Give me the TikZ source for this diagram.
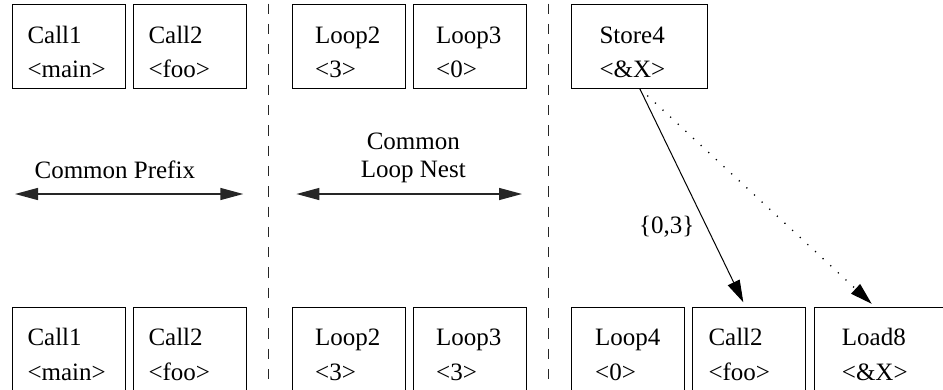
\documentclass[tikz,border=0pt]{standalone}
\usepackage{fontspec}
\setmainfont{Liberation Serif}
\usetikzlibrary{arrows.meta}
\tikzset{
  cellbox/.style={draw, line width=1pt, inner sep=0pt, minimum height=83.3pt},
  celltext/.style={anchor=base west, inner sep=0pt, font=\fontsize{25}{30}\selectfont},
  sepline/.style={draw=black!85, line width=1.2pt, dash pattern=on 10.3pt off 10pt, dash phase=16.8pt},
  spanarrow/.style={{Triangle[length=23pt,width=12pt]}-{Triangle[length=23pt,width=12pt]}, line width=1.4pt, draw=black!85},
  deparrow/.style={-{Triangle[length=22pt,width=13pt]}, line width=1pt},
  maydep/.style={deparrow, line width=1.3pt, dash pattern=on 1.2pt off 9.2pt},
  lbl/.style={font=\fontsize{25}{30}\selectfont, inner sep=0pt, anchor=base},
}
\newcommand\cellbx[7]{%
  \node[cellbox, minimum width={(#3-#2)*1pt}] (#1) at ({(#2+#3)/2},{#4+41.65}) {};
  \node[celltext] (#1a) at ({#2+#5},{#4+38.3}) {#6};
  \node[celltext] (#1b) at ({#2+#5},{#4+72.8}) {#7};
}
\begin{document}
\begin{tikzpicture}[x=1pt,y=-1pt]
\clip (0,0) rectangle (943,389);
% top row
\cellbx{tca}{12}{125.5}{4.7}{15.3}{Call1}{<main>}
\cellbx{tcb}{133.3}{246.7}{4.7}{15}{Call2}{<foo>}
\cellbx{tla}{292}{405.3}{4.7}{23}{Loop2}{<3>}
\cellbx{tlb}{413.3}{526.7}{4.7}{22.7}{Loop3}{<0>}
\cellbx{tsd}{571.7}{707.7}{4.7}{27.6}{Store4}{<\&X>}
% bottom row
\cellbx{bca}{12}{125.5}{307.3}{15.3}{Call1}{<main>}
\cellbx{bcb}{133.3}{246.7}{307.3}{15}{Call2}{<foo>}
\cellbx{bla}{292}{405.3}{307.3}{23}{Loop2}{<3>}
\cellbx{blb}{413.3}{526.7}{307.3}{22.7}{Loop3}{<3>}
\cellbx{blc}{571.7}{684.3}{307.3}{23.3}{Loop4}{<0>}
\cellbx{bcc}{692.7}{805.7}{307.3}{15.6}{Call2}{<foo>}
\cellbx{bld}{814}{950}{307.3}{27.7}{Load8}{<\&X>}
% separators
\coordinate (d1t) at (268.6,0);
\coordinate (d1b) at (268.6,389);
\coordinate (d2t) at (548.3,0);
\coordinate (d2b) at (548.3,389);
\draw[sepline] (d1t) -- (d1b);
\draw[sepline] (d2t) -- (d2b);
% spans
\coordinate (pa) at (15,194);
\coordinate (pb) at (243.3,194);
\coordinate (na) at (296.4,194);
\coordinate (nb) at (522,194);
\draw[spanarrow] (pa) -- (pb);
\draw[spanarrow] (na) -- (nb);
\node[lbl] (cp) at (114.8,178.3) {Common Prefix};
\node[lbl] (cln1) at (413.3,149.3) {Common};
\node[lbl] (cln2) at (413.3,177.3) {Loop Nest};
% dependences
\draw[deparrow] (tsd.south) -- ([xshift=-5.9pt,yshift=4.6pt]bcc.north);
\draw[maydep] (tsd.south) -- ([xshift=-10.3pt,yshift=3pt]bld.north);
\node[lbl] (dist) at (666.7,233) {\{0,3\}};
\end{tikzpicture}
\end{document}
